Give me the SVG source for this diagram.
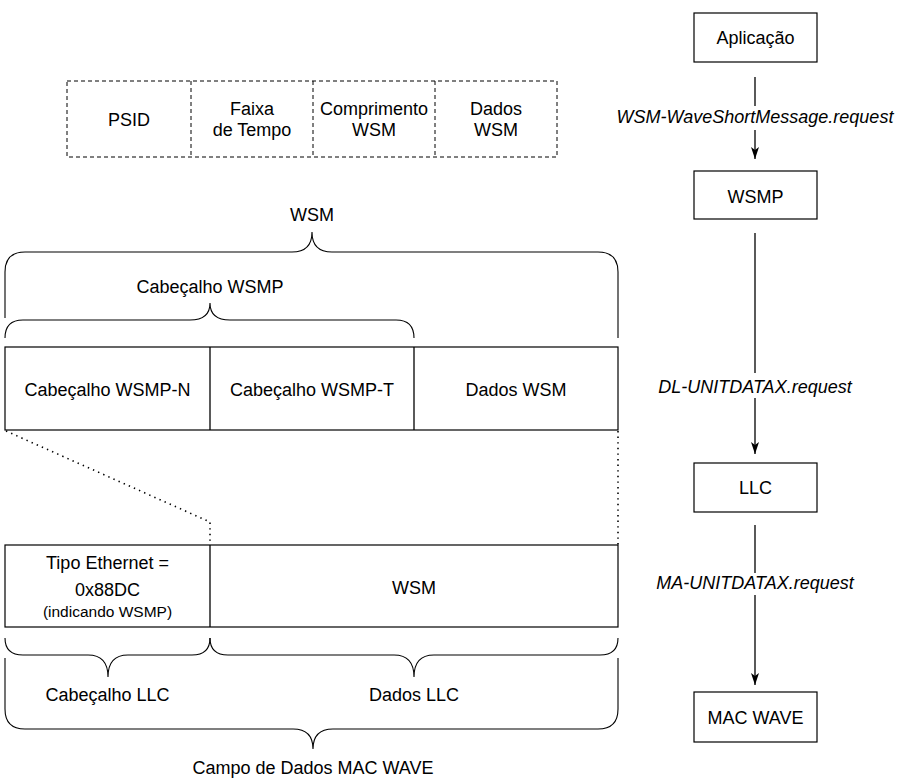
<svg xmlns="http://www.w3.org/2000/svg" width="908" height="782" viewBox="0 0 908 782">
<defs>
<style>
text{font-family:"Liberation Sans",Arial,sans-serif;font-size:18px;fill:#000;text-anchor:middle}
.it{font-style:italic}
.sm{font-size:15.5px}
.box{fill:#fff;stroke:#000;stroke-width:1.2}
.dash{fill:none;stroke:#000;stroke-width:1;stroke-dasharray:4 3}
.ln{fill:none;stroke:#000;stroke-width:1.3}
.br{fill:none;stroke:#000;stroke-width:1.1}
.dot{fill:none;stroke:#000;stroke-width:1.6;stroke-dasharray:1.4 4.2}
</style>
<marker id="ah" viewBox="0 0 12 9" refX="12" refY="4.5" markerWidth="12" markerHeight="9" markerUnits="userSpaceOnUse" orient="auto">
<path d="M0,0.5 L12,4.5 L0,8.5 L3,4.5 Z" fill="#000"/>
</marker>
</defs>
<rect width="908" height="782" fill="#fff"/>

<g id="wsm-format">
<rect class="dash" x="67" y="81" width="490" height="76"/>
<line class="dash" x1="191" y1="81" x2="191" y2="157"/>
<line class="dash" x1="313" y1="81" x2="313" y2="157"/>
<line class="dash" x1="435" y1="81" x2="435" y2="157"/>
<text x="129" y="126">PSID</text>
<text x="252" y="115">Faixa</text>
<text x="252" y="136">de Tempo</text>
<text x="374" y="115">Comprimento</text>
<text x="374" y="136">WSM</text>
<text x="496" y="115">Dados</text>
<text x="496" y="136">WSM</text>
</g>

<g id="brace-wsm">
<path class="br" d="M5,318 V272 Q5,252 25,252 H292 Q312,252 312,232 Q312,252 332,252 H598 Q618,252 618,272 V338"/>
<text x="312" y="221">WSM</text>
</g>
<g id="brace-wsmp">
<path class="br" d="M5,338 Q5,320 23,320 H190 Q210,320 210,303 Q210,320 230,320 H396 Q414,320 414,338"/>
<text x="210" y="293">Cabeçalho WSMP</text>
</g>

<g id="wsmp-table">
<rect class="box" x="5" y="347" width="613" height="83"/>
<line class="ln" x1="210" y1="347" x2="210" y2="430"/>
<line class="ln" x1="414" y1="347" x2="414" y2="430"/>
<text x="107.5" y="396">Cabeçalho WSMP-N</text>
<text x="312" y="396">Cabeçalho WSMP-T</text>
<text x="516" y="396">Dados WSM</text>
</g>

<g id="llc-table">
<rect class="box" x="5" y="545" width="613" height="82"/>
<line class="ln" x1="210" y1="545" x2="210" y2="627"/>
<text x="107.5" y="569">Tipo Ethernet =</text>
<text x="107.5" y="596">0x88DC</text>
<text class="sm" x="107.5" y="617">(indicando WSMP)</text>
<text x="414" y="594">WSM</text>
</g>

<g id="brace-llc-header">
<path class="br" d="M5,638 Q5,655 23,655 H88 Q108,655 108,677 Q108,655 128,655 H192 Q210,655 210,638"/>
<text x="107.5" y="701">Cabeçalho LLC</text>
</g>
<g id="brace-llc-data">
<path class="br" d="M210,638 Q210,655 228,655 H394 Q414,655 414,677 Q414,655 434,655 H600 Q618,655 618,638"/>
<text x="414" y="701">Dados LLC</text>
</g>
<g id="brace-mac">
<path class="br" d="M5,658 V709 Q5,729 25,729 H293 Q313,729 313,749 Q313,729 333,729 H598 Q618,729 618,709 V658"/>
<text x="313" y="774">Campo de Dados MAC WAVE</text>
</g>

<g id="app"><rect class="box" x="694" y="13" width="123" height="49"/><text x="755.5" y="44">Aplicação</text></g>
<g id="wsmp"><rect class="box" x="694" y="171" width="123" height="48"/><text x="755.5" y="203">WSMP</text></g>
<g id="llc"><rect class="box" x="694" y="463" width="123" height="49"/><text x="755.5" y="494">LLC</text></g>
<g id="mac"><rect class="box" x="694" y="692" width="123" height="50"/><text x="755.5" y="724">MAC WAVE</text></g>

<g id="connectors">
<path class="dot" d="M6,431 L210,522 L210,545"/>
<path class="dot" d="M618,431 L618,545"/>
<line class="ln" x1="755" y1="77" x2="755" y2="106"/>
<line class="ln" x1="755" y1="130" x2="755" y2="159" marker-end="url(#ah)"/>
<line class="ln" x1="755" y1="233" x2="755" y2="373"/>
<line class="ln" x1="755" y1="398" x2="755" y2="454" marker-end="url(#ah)"/>
<line class="ln" x1="755" y1="525" x2="755" y2="573"/>
<line class="ln" x1="755" y1="595" x2="755" y2="685" marker-end="url(#ah)"/>
<text class="it" x="755" y="123">WSM-WaveShortMessage.request</text>
<text class="it" x="755" y="393">DL-UNITDATAX.request</text>
<text class="it" x="755" y="589">MA-UNITDATAX.request</text>
</g>
</svg>
